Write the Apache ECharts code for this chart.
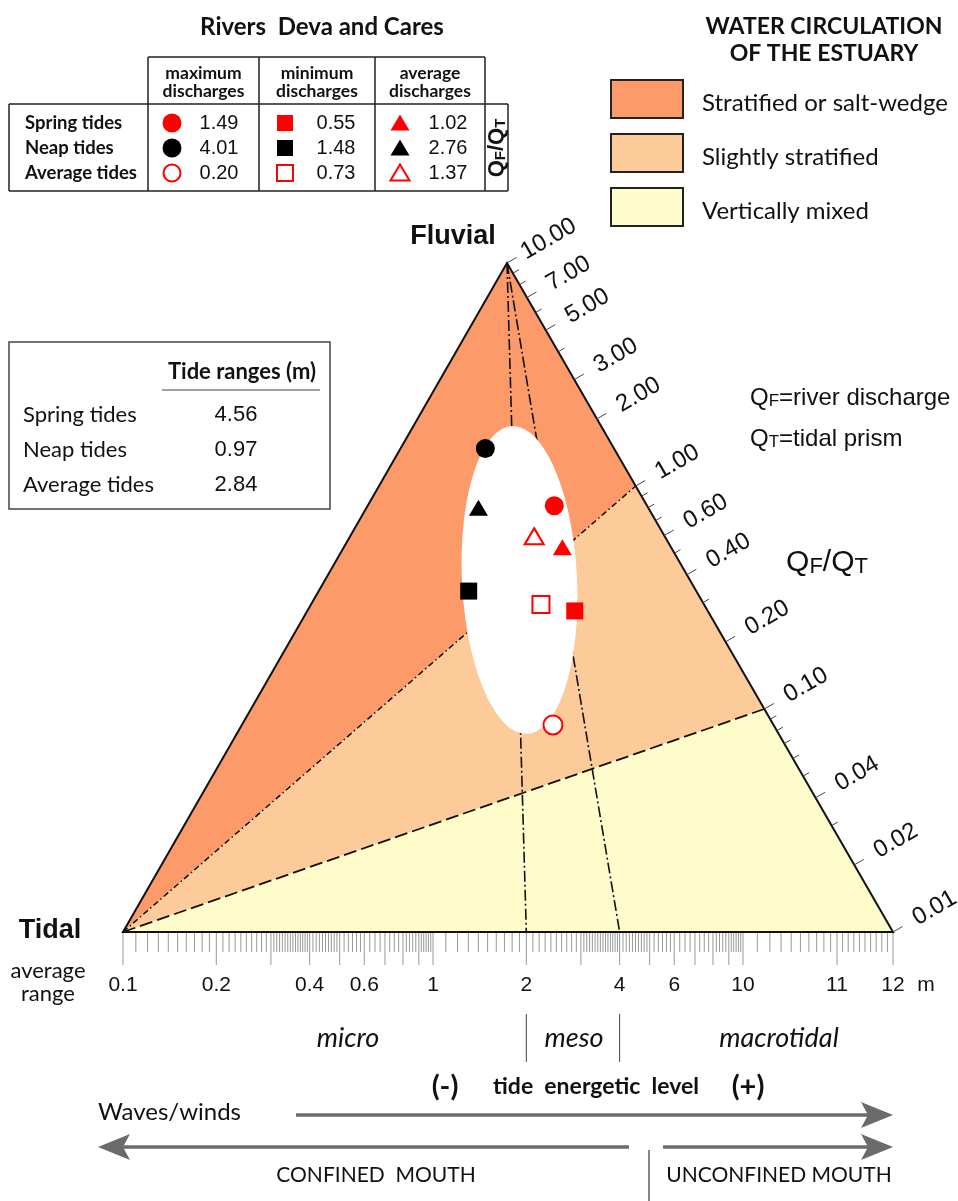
<!DOCTYPE html>
<html><head><meta charset="utf-8">
<script src="https://cdn.jsdelivr.net/npm/echarts@6/dist/echarts.min.js"></script>
<style>html,body{margin:0;padding:0;background:#fff}#chart{width:958px;height:1201px}</style>
</head><body><div id="chart"></div>
<script>
// ---------------- data ----------------
const tideNames = ['Spring tides', 'Neap tides', 'Average tides'];
const tideRanges = [4.56, 0.97, 2.84];                 // m
const dischargeHeaders = [['maximum', 'discharges'], ['minimum', 'discharges'], ['average', 'discharges']];
const qfqtMaximum = [1.49, 4.01, 0.20];
const qfqtMinimum = [0.55, 1.48, 0.73];
const qfqtAverage = [1.02, 2.76, 1.37];
const qfqtTickLabels = ['10.00', '7.00', '5.00', '3.00', '2.00', '1.00', '0.60', '0.40', '0.20', '0.10', '0.04', '0.02', '0.01'];
const rangeTickLabels = ['0.1', '0.2', '0.4', '0.6', '1', '2', '4', '6', '10', '11', '12'];
const circulationClasses = ['Stratified or salt-wedge', 'Slightly stratified', 'Vertically mixed'];
const circulationLimits = [1.0, 0.1];   // QF/QT class limits
const tidalClassLimits = [2, 4];        // micro / meso / macro limits (m)
const tidalClasses = ['micro', 'meso', 'macrotidal'];

// ---------------- geometry / scales ----------------
const W = 958, H = 1201;
const APEX = [507, 263], TIDAL = [123, 932], RIGHT = [893, 932];
const COLORS = ['#FC9B69', '#FDCA99', '#FFFCCB'];
const SANS = 'Liberation Sans, Arial, sans-serif';
const CAL = 'Lato, Liberation Sans, sans-serif';

function qPos(q) { // QF/QT log scale along right edge, 10 at apex, 0.01 at right vertex
  const t = (1 - Math.log10(q)) / 3;
  return [APEX[0] + t * (RIGHT[0] - APEX[0]), APEX[1] + t * (RIGHT[1] - APEX[1])];
}
function rX(r) { // tide range scale along base
  if (r <= 10) return 433 + 310 * Math.log10(r);
  if (r <= 11) return 743 + 94 * Math.log10(1 + 1.5 * (r - 10)) / Math.log10(2.5);
  return 837 + 56 * (r - 11);
}
function rPos(r) { return [rX(r), TIDAL[1]]; }
function intersect(p1, p2, p3, p4) {
  const d = (p1[0] - p2[0]) * (p3[1] - p4[1]) - (p1[1] - p2[1]) * (p3[0] - p4[0]);
  const a = p1[0] * p2[1] - p1[1] * p2[0], b = p3[0] * p4[1] - p3[1] * p4[0];
  return [(a * (p3[0] - p4[0]) - (p1[0] - p2[0]) * b) / d, (a * (p3[1] - p4[1]) - (p1[1] - p2[1]) * b) / d];
}
function plotPos(q, r) { return intersect(TIDAL, qPos(q), APEX, rPos(r)); }

const edgeLen = Math.hypot(RIGHT[0] - APEX[0], RIGHT[1] - APEX[1]);
const NRM = [(RIGHT[1] - APEX[1]) / edgeLen, -(RIGHT[0] - APEX[0]) / edgeLen];

// ---------------- helpers ----------------
function layer(z, build) {
  return {
    type: 'custom', coordinateSystem: 'cartesian2d', data: [[0, 0]], z: z, silent: true,
    renderItem: (params, api) => ({ type: 'group', children: build(p => api.coord(p)) })
  };
}
function seg(c, p, q, style) {
  const a = c(p), b = c(q);
  return { type: 'line', shape: { x1: a[0], y1: a[1], x2: b[0], y2: b[1] }, style: style };
}
function txt(x, y, text, o) {
  o = o || {};
  return {
    type: 'text', x: x, y: y, rotation: o.rotation || 0, z: 10,
    style: {
      text: text, fontSize: o.size || 18, fontFamily: o.family || CAL, fontWeight: o.weight || 'normal',
      fontStyle: o.style || 'normal', fill: o.color || '#111', align: o.align || 'center',
      verticalAlign: 'middle', rich: o.rich
    }
  };
}
function gline(x1, y1, x2, y2, w, col) {
  return { type: 'line', z: 10, shape: { x1, y1, x2, y2 }, style: { stroke: col || '#222', lineWidth: w || 1.5 } };
}

// ---------------- series ----------------
const series = [];

// coloured regions
series.push(layer(1, c => {
  const p1 = qPos(circulationLimits[0]), p2 = qPos(circulationLimits[1]);
  const polys = [[TIDAL, APEX, p1], [TIDAL, p1, p2], [TIDAL, p2, RIGHT]];
  return polys.map((pts, i) => ({ type: 'polygon', shape: { points: pts.map(c) }, style: { fill: COLORS[i], stroke: null } }));
}));

// boundary & tide-class lines
series.push(layer(2, c => [
  seg(c, TIDAL, qPos(circulationLimits[0]), { stroke: '#111', lineWidth: 1.5, lineDash: [6, 3, 1.5, 3] }),
  seg(c, TIDAL, qPos(circulationLimits[1]), { stroke: '#111', lineWidth: 1.8, lineDash: [13, 5] }),
  seg(c, APEX, rPos(tidalClassLimits[0]), { stroke: '#111', lineWidth: 1.6, lineDash: [11, 3, 2, 3] }),
  seg(c, APEX, rPos(tidalClassLimits[1]), { stroke: '#111', lineWidth: 1.6, lineDash: [11, 3, 2, 3] })
]));

// white ellipse
series.push(layer(3, c => {
  const cx = 519.5, cy = 580, rx = 57.5, ry = 154, th = -0.049, pts = [];
  for (let i = 0; i < 120; i++) {
    const a = i / 120 * Math.PI * 2, x = rx * Math.cos(a), y = ry * Math.sin(a);
    pts.push(c([cx + x * Math.cos(th) - y * Math.sin(th), cy + x * Math.sin(th) + y * Math.cos(th)]));
  }
  return [{ type: 'polygon', shape: { points: pts }, style: { fill: '#fff', stroke: null } }];
}));

// triangle outline, right-edge ticks & labels, base ticks & labels
series.push(layer(4, c => {
  const ch = [];
  ch.push({ type: 'polygon', shape: { points: [TIDAL, APEX, RIGHT].map(c) }, style: { fill: null, stroke: '#111', lineWidth: 2 } });
  const labelled = qfqtTickLabels.map(Number);
  const vals = [10];
  [1, 0.1, 0.01].forEach(d => { for (let k = 9; k >= 1; k--) vals.push(k * d); });
  vals.forEach(v => {
    const isL = labelled.some(l => Math.abs(l - v) < 1e-9);
    const p = qPos(v), len = isL ? 11 : 7;
    ch.push(seg(c, p, [p[0] + NRM[0] * len, p[1] + NRM[1] * len], { stroke: '#444', lineWidth: 1 }));
  });
  qfqtTickLabels.forEach(l => {
    const p = qPos(Number(l)), q = c([p[0] + NRM[0] * 48, p[1] + NRM[1] * 48]);
    ch.push({ type: 'text', x: q[0], y: q[1], rotation: Math.PI / 6,
      style: { text: l, fontSize: 24, fontFamily: SANS, fill: '#111', align: 'center', verticalAlign: 'middle' } });
  });
  const longT = [], shortT = [];
  const subdiv = [0, 10, 10, 15, 10, 6, 4, 4, 5, 6];
  [0.1, 1].forEach(dec => {
    for (let k = 1; k <= 9; k++) {
      longT.push(k * dec);
      for (let j = 1; j < subdiv[k]; j++) shortT.push(dec * (k + j / subdiv[k]));
    }
  });
  longT.push(10, 11, 12);
  for (let j = 1; j < 10; j++) { shortT.push(10 + j / 10); shortT.push(11 + j / 10); }
  shortT.forEach(v => ch.push(seg(c, [rX(v), 933], [rX(v), 952], { stroke: '#999', lineWidth: 1 })));
  longT.forEach(v => ch.push(seg(c, [rX(v), 933], [rX(v), 965], { stroke: '#999', lineWidth: 1 })));
  rangeTickLabels.forEach(l => {
    const q = c([rX(Number(l)), 985]);
    ch.push({ type: 'text', x: q[0], y: q[1],
      style: { text: l, fontSize: 21, fontFamily: SANS, fill: '#111', align: 'center', verticalAlign: 'middle' } });
  });
  tidalClassLimits.forEach(v => ch.push(seg(c, [rX(v), 1014], [rX(v), 1062], { stroke: '#444', lineWidth: 1 })));
  return ch;
}));

// data points
const pointStyles = [
  { color: '#ff0000', opacity: 1 },
  { color: '#000000', opacity: 1 },
  { color: '#ffffff', borderColor: '#ff0000', borderWidth: 2, opacity: 1 }
];
function pointSeries(name, values, symbol, size) {
  return {
    type: 'scatter', name: name, z: 6, symbol: symbol, symbolSize: size, silent: true,
    itemStyle: { opacity: 1 },
    data: values.map((q, i) => ({ value: plotPos(q, tideRanges[i]), itemStyle: pointStyles[i] }))
  };
}
series.push(pointSeries('maximum discharges', qfqtMaximum, 'circle', 19));
series.push(pointSeries('minimum discharges', qfqtMinimum, 'rect', 17));
series.push(pointSeries('average discharges', qfqtAverage, 'triangle', [19, 16]));

// ---------------- graphic: tables, legend, annotations ----------------
const G = [];
G.push(txt(322, 27, 'Rivers  Deva and Cares', { size: 24, weight: 'bold' }));
const colX = [148, 259, 375, 485];
G.push(gline(148, 57, 485, 57));
colX.forEach(x => G.push(gline(x, 57, x, 191)));
G.push(gline(9, 104, 508, 104));
G.push(gline(9, 191, 508, 191));
G.push(gline(9, 104, 9, 191));
G.push(gline(508, 104, 508, 191));
dischargeHeaders.forEach((h, i) => {
  const cx = (colX[i] + colX[i + 1]) / 2;
  G.push(txt(cx, 73, h[0], { size: 17.5, weight: 'bold' }));
  G.push(txt(cx, 91, h[1], { size: 17.5, weight: 'bold' }));
});
const rowY = [123, 148, 173];
const tableCols = [qfqtMaximum, qfqtMinimum, qfqtAverage];
const symX = [172, 285, 400], valX = [219, 336, 448];
function tableSymbol(kind, x, y, i) {
  const st = i === 2 ? { fill: '#fff', stroke: '#ff0000', lineWidth: 2 } : { fill: i === 0 ? '#ff0000' : '#000', stroke: null };
  if (kind === 0) return { type: 'circle', z: 10, shape: { cx: x, cy: y, r: i === 2 ? 8.5 : 9.5 }, style: st };
  if (kind === 1) return { type: 'rect', z: 10, shape: { x: x - 8, y: y - 8, width: 16, height: 16 }, style: st };
  return { type: 'polygon', z: 10, shape: { points: [[x, y - 8.5], [x + 9.5, y + 7.5], [x - 9.5, y + 7.5]] }, style: st };
}
tideNames.forEach((n, i) => {
  G.push(txt(25, rowY[i], n, { size: 18.5, weight: 'bold', align: 'left' }));
  tableCols.forEach((col, k) => {
    G.push(tableSymbol(k, symX[k], rowY[i], i));
    G.push(txt(valX[k], rowY[i], col[i].toFixed(2), { size: 20, family: SANS }));
  });
});
G.push(txt(497, 148, '{b|Q}{s|F}{b|/Q}{s|T}', {
  rotation: Math.PI / 2, size: 22, weight: 'bold', family: SANS,
  rich: { b: { fontSize: 22, fontWeight: 'bold', fontFamily: SANS, fill: '#111', verticalAlign: 'bottom' },
          s: { fontSize: 15, fontWeight: 'bold', fontFamily: SANS, fill: '#111', verticalAlign: 'bottom' } }
}));

// legend
G.push(txt(824, 27, 'WATER CIRCULATION', { size: 23, weight: 'bold' }));
G.push(txt(824, 54, 'OF THE ESTUARY', { size: 23, weight: 'bold' }));
const legY = [80, 134, 188];
circulationClasses.forEach((n, i) => {
  G.push({ type: 'rect', z: 10, shape: { x: 611, y: legY[i], width: 72, height: 38 }, style: { fill: COLORS[i], stroke: '#222', lineWidth: 2 } });
  G.push(txt(702, legY[i] + 23, n, { size: 24, align: 'left' }));
});

// tide range box
G.push({ type: 'rect', z: 10, shape: { x: 9, y: 342, width: 321, height: 167 }, style: { fill: null, stroke: '#444', lineWidth: 1.5 } });
G.push(txt(242, 372, 'Tide ranges (m)', { size: 22, weight: 'bold' }));
G.push(gline(162, 390, 320, 390, 1, '#444'));
const boxY = [415, 450, 485];
tideNames.forEach((n, i) => {
  G.push(txt(23, boxY[i], n, { size: 22, align: 'left' }));
  G.push(txt(236, boxY[i], tideRanges[i].toFixed(2), { size: 22, family: SANS }));
});

// vertex labels & QF/QT notes
G.push(txt(453, 237, 'Fluvial', { size: 27, weight: 'bold', family: SANS }));
G.push(txt(50, 931, 'Tidal', { size: 27, weight: 'bold', family: SANS }));
const subRich = (fs) => ({
  b: { fontSize: fs, fontFamily: SANS, fill: '#111', verticalAlign: 'bottom' },
  s: { fontSize: Math.round(fs * 0.72), fontFamily: SANS, fill: '#111', verticalAlign: 'bottom' }
});
G.push(txt(750, 398, '{b|Q}{s|F}{b|=river discharge}', { size: 24, align: 'left', rich: subRich(24) }));
G.push(txt(750, 439, '{b|Q}{s|T}{b|=tidal prism}', { size: 24, align: 'left', rich: subRich(24) }));
G.push(txt(827, 563, '{b|Q}{s|F}{b|/Q}{s|T}', { size: 30, rich: subRich(30) }));

// base axis captions
G.push(txt(48, 971, 'average', { size: 22 }));
G.push(txt(48, 994, 'range', { size: 22 }));
G.push(txt(926, 985, 'm', { size: 21, family: SANS }));
const classX = [348, 574, 779];
tidalClasses.forEach((n, i) => G.push(txt(classX[i], 1038, n, { size: 27, style: 'italic' })));
G.push(txt(445, 1087, '(-)', { size: 29, weight: 'bold' }));
G.push(txt(596, 1087, 'tide  energetic  level', { size: 23, weight: 'bold' }));
G.push(txt(748, 1087, '(+)', { size: 29, weight: 'bold' }));
G.push(txt(98, 1112, 'Waves/winds', { size: 24, align: 'left' }));

// arrows
const AC = '#6b6b6b';
G.push(gline(296, 1115, 870, 1115, 3.5, AC));
G.push({ type: 'polygon', z: 10, shape: { points: [[893, 1115], [861, 1102], [868, 1115], [861, 1128]] }, style: { fill: AC } });
G.push(gline(122, 1147, 629, 1147, 3.5, AC));
G.push({ type: 'polygon', z: 10, shape: { points: [[98, 1147], [130, 1134], [123, 1147], [130, 1160]] }, style: { fill: AC } });
G.push(gline(663, 1147, 870, 1147, 3.5, AC));
G.push({ type: 'polygon', z: 10, shape: { points: [[893, 1147], [861, 1134], [868, 1147], [861, 1160]] }, style: { fill: AC } });
G.push(gline(649, 1150, 649, 1201, 1.2, '#333'));
G.push(txt(376, 1175, 'CONFINED  MOUTH', { size: 21 }));
G.push(txt(779, 1175, 'UNCONFINED MOUTH', { size: 21 }));

// ---------------- chart ----------------
const chart = echarts.init(document.getElementById('chart'), null, { renderer: 'canvas' });
chart.setOption({
  animation: false,
  backgroundColor: '#ffffff',
  grid: { left: 0, right: 0, top: 0, bottom: 0 },
  xAxis: { type: 'value', min: 0, max: W, show: false },
  yAxis: { type: 'value', min: 0, max: H, inverse: true, show: false },
  series: series,
  graphic: { elements: G }
});
</script></body></html>
